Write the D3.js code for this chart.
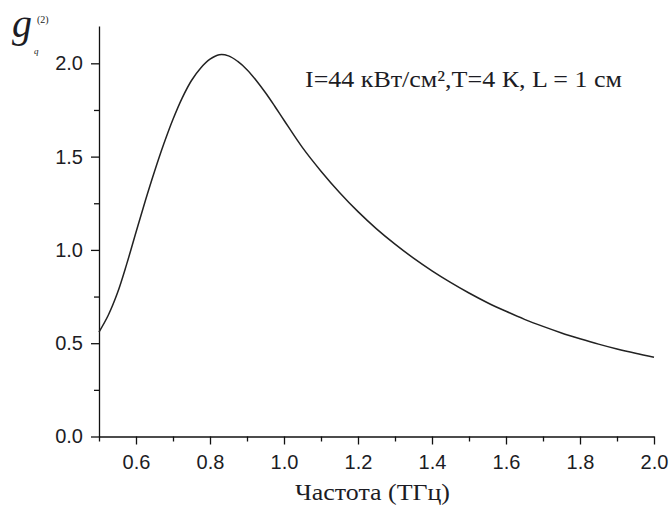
<!DOCTYPE html>
<html>
<head>
<meta charset="utf-8">
<script src="https://cdn.jsdelivr.net/npm/d3@7"></script>
<style>
  html, body { margin: 0; padding: 0; background: #fff; }
  svg { display: block; }
</style>
</head>
<body>
<svg id="chart" width="671" height="508"></svg>
<script>
// Data
const freq = [0.500, 0.525, 0.550, 0.575, 0.600, 0.625, 0.650, 0.675, 0.700, 0.725,
              0.750, 0.775, 0.800, 0.825, 0.850, 0.875, 0.900, 0.925, 0.950, 0.975,
              1.00, 1.05, 1.10, 1.15, 1.20, 1.25, 1.30, 1.35, 1.40, 1.45, 1.50, 1.55,
              1.60, 1.65, 1.70, 1.75, 1.80, 1.85, 1.90, 1.95, 2.00];
const g2 = [0.560, 0.650, 0.770, 0.925, 1.095, 1.262, 1.420, 1.567, 1.700, 1.815,
            1.908, 1.975, 2.022, 2.046, 2.040, 2.010, 1.966, 1.908, 1.842, 1.770,
            1.695, 1.548, 1.422, 1.308, 1.205, 1.113, 1.031, 0.956, 0.888, 0.826, 0.769, 0.717,
            0.671, 0.628, 0.590, 0.555, 0.524, 0.495, 0.469, 0.446, 0.425];
const xTicks = [0.6, 0.8, 1.0, 1.2, 1.4, 1.6, 1.8, 2.0];
const xMinor = [0.5, 0.7, 0.9, 1.1, 1.3, 1.5, 1.7, 1.9];
const yTicks = [0.0, 0.5, 1.0, 1.5, 2.0];
const yMinor = [0.25, 0.75, 1.25, 1.75];
const xTitle = "Частота (ТГц)";
const note = "I=44 кВт/см²,T=4 К, L = 1 см";

const svg = d3.select("#chart");
const x = d3.scaleLinear().domain([0.5, 2.0]).range([99, 654]);
const y = d3.scaleLinear().domain([0, 2.2]).range([436.5, 26]);

const axisColor = "#111";
const textColor = "#1c1c24";

// X axis
svg.append("g").attr("transform", `translate(0,${y(0)})`)
  .call(d3.axisBottom(x).tickValues(xTicks).tickFormat(d3.format(".1f")).tickSize(8).tickSizeOuter(0).tickPadding(10));
svg.append("g").attr("transform", `translate(0,${y(0)})`)
  .call(d3.axisBottom(x).tickValues(xMinor).tickFormat("").tickSize(5).tickSizeOuter(0))
  .call(g => g.select(".domain").remove());

// Y axis
svg.append("g").attr("transform", `translate(${x(0.5)},0)`)
  .call(d3.axisLeft(y).tickValues(yTicks).tickFormat(d3.format(".1f")).tickSize(8).tickSizeOuter(0).tickPadding(8));
svg.append("g").attr("transform", `translate(${x(0.5)},0)`)
  .call(d3.axisLeft(y).tickValues(yMinor).tickFormat("").tickSize(5).tickSizeOuter(0))
  .call(g => g.select(".domain").remove());

svg.selectAll(".domain").attr("stroke", axisColor).attr("stroke-width", 1.3);
svg.selectAll(".tick line").attr("stroke", axisColor).attr("stroke-width", 1.3);
svg.selectAll(".tick text")
  .attr("font-family", "'Liberation Sans', Arial, sans-serif")
  .attr("font-size", 20)
  .attr("fill", textColor);

// Curve
const pts = freq.map((f, i) => [f, g2[i]]);
svg.append("path")
  .datum(pts)
  .attr("fill", "none")
  .attr("stroke", "#222")
  .attr("stroke-width", 1.5)
  .attr("d", d3.line().x(d => x(d[0])).y(d => y(d[1])).curve(d3.curveCatmullRom.alpha(0.5)));

// X title
svg.append("text")
  .attr("x", 295).attr("y", 500)
  .attr("font-family", "'Liberation Serif', 'Times New Roman', serif")
  .attr("font-size", 23)
  .attr("textLength", 155)
  .attr("lengthAdjust", "spacingAndGlyphs")
  .attr("fill", textColor)
  .text(xTitle);

// Annotation
svg.append("text")
  .attr("x", 305).attr("y", 87)
  .attr("font-family", "'Liberation Serif', 'Times New Roman', serif")
  .attr("font-size", 23)
  .attr("textLength", 317)
  .attr("lengthAdjust", "spacingAndGlyphs")
  .attr("fill", textColor)
  .text(note);

// Y title g_q^(2)
const yl = svg.append("g").attr("fill", textColor)
  .attr("font-family", "'Liberation Serif', 'Times New Roman', serif");
yl.append("text").attr("x", 12).attr("y", 37)
  .attr("font-size", 40).attr("font-style", "italic").text("g");
yl.append("text").attr("x", 37).attr("y", 23)
  .attr("font-size", 10).text("(2)");
yl.append("text").attr("x", 34).attr("y", 54)
  .attr("font-size", 9).attr("font-style", "italic").text("q");
</script>
</body>
</html>
